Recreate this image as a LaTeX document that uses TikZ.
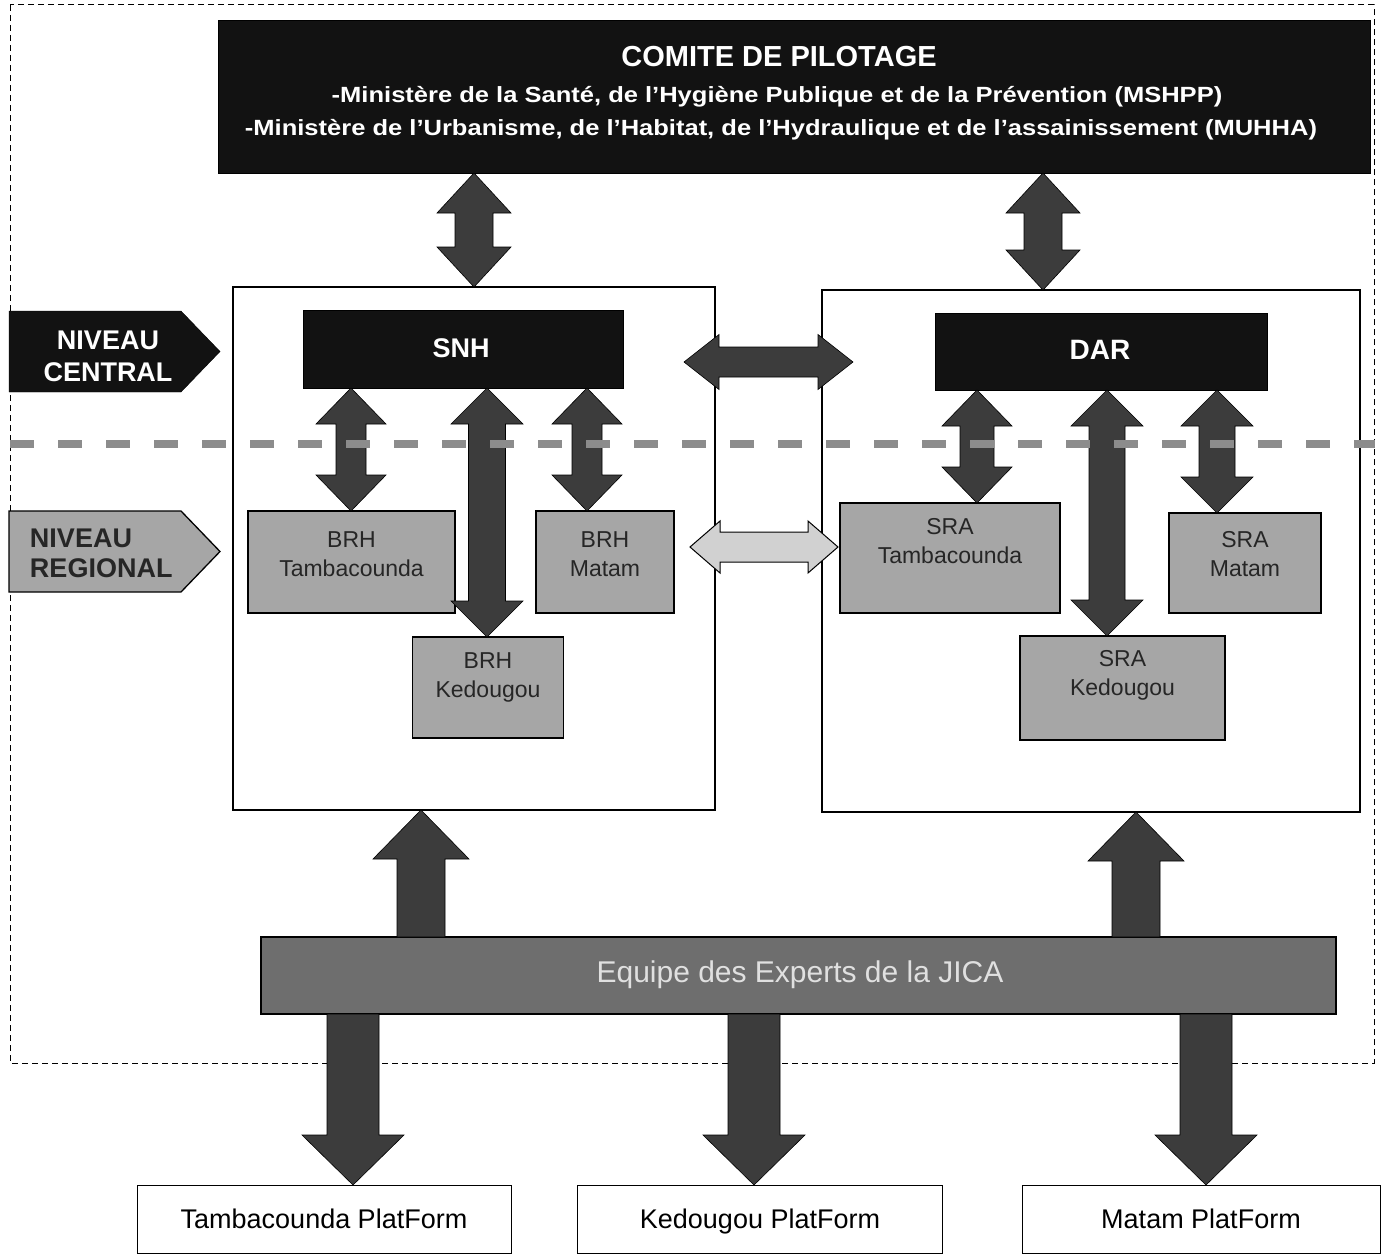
\documentclass[tikz,border=0pt]{standalone}
\usepackage{fontspec}
\setmainfont{Liberation Sans}
\usetikzlibrary{calc}
% vertical double block arrow: #1 top, #2 bottom, #3 half shaft, #4 half head, #5 head length, #6 style
\newcommand\vdbl[6]{\path[#6] let \p1=#1, \p2=#2 in
  (\x1,\y1) -- (\x1+#4pt,\y1-#5pt) -- (\x1+#3pt,\y1-#5pt) -- (\x1+#3pt,\y2+#5pt) -- (\x1+#4pt,\y2+#5pt)
  -- (\x1,\y2) -- (\x1-#4pt,\y2+#5pt) -- (\x1-#3pt,\y2+#5pt) -- (\x1-#3pt,\y1-#5pt) -- (\x1-#4pt,\y1-#5pt) -- cycle;}
% single up arrow: #1 tip (top), #2 base (bottom)
\newcommand\vup[6]{\path[#6] let \p1=#1, \p2=#2 in
  (\x1,\y1) -- (\x1+#4pt,\y1-#5pt) -- (\x1+#3pt,\y1-#5pt) -- (\x1+#3pt,\y2) -- (\x1-#3pt,\y2)
  -- (\x1-#3pt,\y1-#5pt) -- (\x1-#4pt,\y1-#5pt) -- cycle;}
% single down arrow: #1 base (top), #2 tip (bottom)
\newcommand\vdown[6]{\path[#6] let \p1=#1, \p2=#2 in
  (\x1-#3pt,\y1) -- (\x1+#3pt,\y1) -- (\x1+#3pt,\y2+#5pt) -- (\x1+#4pt,\y2+#5pt) -- (\x1,\y2)
  -- (\x1-#4pt,\y2+#5pt) -- (\x1-#3pt,\y2+#5pt) -- cycle;}
% horizontal double block arrow: #1 left, #2 right
\newcommand\hdbl[6]{\path[#6] let \p1=#1, \p2=#2 in
  (\x1,\y1) -- (\x1+#5pt,\y1+#4pt) -- (\x1+#5pt,\y1+#3pt) -- (\x2-#5pt,\y1+#3pt) -- (\x2-#5pt,\y1+#4pt)
  -- (\x2,\y1) -- (\x2-#5pt,\y1-#4pt) -- (\x2-#5pt,\y1-#3pt) -- (\x1+#5pt,\y1-#3pt) -- (\x1+#5pt,\y1-#4pt) -- cycle;}
\definecolor{arrowgray}{HTML}{3C3C3C}
\definecolor{boxgray}{HTML}{A6A6A6}
\definecolor{bargray}{HTML}{6E6E6E}
\definecolor{dashgray}{HTML}{8C8C8C}
\begin{document}
\begin{tikzpicture}[x=1pt,y=-1pt,
  every node/.style={outer sep=0pt,inner sep=0pt},
  blackbox/.style={fill=black!93,draw=black},
  container/.style={draw=black,line width=1.2pt,fill=white},
  graybox/.style={fill=boxgray,draw=black,line width=1.3pt},
  platbox/.style={draw=black,line width=1pt,fill=white},
  barbox/.style={fill=bargray,draw=black,line width=1.2pt},
  blockarrow/.style={fill=arrowgray,draw=black,line width=0.6pt},
  lightarrow/.style={fill=black!18,draw=black,line width=1pt},
  wbold/.style={text=white,font=\bfseries},
  subline/.style={text=white,xscale=1.16,font=\bfseries\fontsize{22}{26}\selectfont},
  plattext/.style={anchor=base,font=\fontsize{27}{30}\selectfont},
  graytext/.style={text=black!85,align=center,font=\fontsize{23}{29}\selectfont}]
\useasboundingbox (0,0) rectangle (1385,1255);

% outer dashed frame
\draw[line width=1pt,dash pattern=on 6pt off 4pt] (10,5) rectangle (1374,1063);

% banner
\node[blackbox,minimum width=1152,minimum height=153] (comite) at (794,96.5) {};
\node[wbold,font=\bfseries\fontsize{29}{34}\selectfont] (title) at (779,57) {COMITE DE PILOTAGE};
\node[subline] (l1) at (777,97) {-Ministère de la Santé, de l’Hygiène Publique et de la Prévention (MSHPP)};
\node[subline] (l2) at (781,130) {-Ministère de l’Urbanisme, de l’Habitat, de l’Hydraulique et de l’assainissement (MUHHA)};

% containers
\node[container,minimum width=482,minimum height=523] (cL) at (474,548.5) {};
\node[container,minimum width=538,minimum height=522] (cR) at (1091,551) {};

% level arrows (pentagons)
\path[blackbox] (9,311) -- (181,311) -- (220,351.5) -- (181,392) -- (9,392) -- cycle;
\node[wbold,align=center,font=\bfseries\fontsize{27}{32}\selectfont] (nc) at (108,356) {NIVEAU\\CENTRAL};
\path[fill=boxgray,draw=black,line width=1.3pt] (9,511) -- (181,511) -- (220,551.5) -- (181,592) -- (9,592) -- cycle;
\node[align=left,anchor=west,text=black!85,font=\bfseries\fontsize{27}{30}\selectfont] (nr) at (30,553) {NIVEAU\\REGIONAL};

% central boxes
\node[blackbox,minimum width=320,minimum height=78] (snh) at (463,349) {};
\node[wbold,font=\bfseries\fontsize{27}{32}\selectfont] (snht) at (461,348) {SNH};
\node[blackbox,minimum width=332,minimum height=77] (dar) at (1101,351.5) {};
\node[wbold,font=\bfseries\fontsize{28}{32}\selectfont] (dart) at (1100,350) {DAR};

% regional boxes
\node[graybox,minimum width=207,minimum height=102] (brhT) at (351.5,562) {};
\node[graytext] (brhTt) at (351.5,554) {BRH\\Tambacounda};
\node[graybox,minimum width=138,minimum height=102] (brhM) at (605,562) {};
\node[graytext] (brhMt) at (605,554) {BRH\\Matam};
\node[graybox,minimum width=151,minimum height=101] (brhK) at (488,687.5) {};
\node[graytext] (brhKt) at (488,677) {BRH\\Kedougou};
\node[graybox,minimum width=220,minimum height=110] (sraT) at (950,558) {};
\node[graytext] (sraTt) at (950,541) {SRA\\Tambacounda};
\node[graybox,minimum width=152,minimum height=100] (sraM) at (1245,563) {};
\node[graytext] (sraMt) at (1245,554) {SRA\\Matam};
\node[graybox,minimum width=205,minimum height=104] (sraK) at (1122.5,688) {};
\node[graytext] (sraKt) at (1122.5,675) {SRA\\Kedougou};

% JICA bar
\node[barbox,minimum width=1075,minimum height=77] (jica) at (798.5,975.5) {};
\node[text=black!12,font=\fontsize{30}{34}\selectfont] (jicat) at (800,975) {Equipe des Experts de la JICA};

% platforms
\node[platbox,minimum width=374,minimum height=68] (pT) at (324,1219) {};
\node[plattext] (pTt) at (324,1228) {Tambacounda PlatForm};
\node[platbox,minimum width=365,minimum height=68] (pK) at (759.5,1219) {};
\node[plattext] (pKt) at (760,1228) {Kedougou PlatForm};
\node[platbox,minimum width=358,minimum height=68] (pM) at (1201,1219) {};
\node[plattext] (pMt) at (1201,1228) {Matam PlatForm};

% x positions of arrows
\coordinate (xa) at (474,0);
\coordinate (xb) at (1043,0);
\coordinate (xs1) at (351,0);
\coordinate (xs2) at (487,0);
\coordinate (xs3) at (587,0);
\coordinate (xd1) at (977,0);
\coordinate (xd2) at (1107,0);
\coordinate (xd3) at (1217,0);
\coordinate (xu1) at (421,0);
\coordinate (xu2) at (1136,0);
\coordinate (xp1) at (353,0);
\coordinate (xp2) at (754,0);
\coordinate (xp3) at (1206,0);
\coordinate (hA) at (684,362);
\coordinate (hB) at (853,362);
\coordinate (gA) at (690,547);
\coordinate (gB) at (838,547);

% banner to containers
\vdbl{(comite.south -| xa)}{(cL.north -| xa)}{19}{37}{40}{blockarrow}
\vdbl{(comite.south -| xb)}{(cR.north -| xb)}{19}{37}{40}{blockarrow}

% SNH arrows
\vdbl{(snh.south -| xs1)}{(brhT.north -| xs1)}{15}{35}{36}{blockarrow}
\vdbl{(snh.south -| xs2)}{(brhK.north -| xs2)}{18.5}{36}{36}{blockarrow}
\vdbl{(snh.south -| xs3)}{(brhM.north -| xs3)}{15}{35}{36}{blockarrow}

% DAR arrows
\vdbl{(dar.south -| xd1)}{(sraT.north -| xd1)}{17}{35}{36}{blockarrow}
\vdbl{(dar.south -| xd2)}{(sraK.north -| xd2)}{18}{36}{36}{blockarrow}
\vdbl{(dar.south -| xd3)}{(sraM.north -| xd3)}{18}{36}{36}{blockarrow}

% horizontal arrows between containers
\hdbl{(hA)}{(hB)}{15}{27.5}{35}{blockarrow}
\hdbl{(gA)}{(gB)}{15}{26}{30}{lightarrow}

% dashed level separator
\draw[dashgray,line width=8pt,dash pattern=on 24pt off 24pt] (10,444) -- (1375,444);

% JICA up arrows
\vup{(cL.south -| xu1)}{(jica.north -| xu1)}{24}{48}{49}{blockarrow}
\vup{(cR.south -| xu2)}{(jica.north -| xu2)}{24}{48}{49}{blockarrow}

% JICA down arrows
\vdown{(jica.south -| xp1)}{(pT.north -| xp1)}{26}{51}{50}{blockarrow}
\vdown{(jica.south -| xp2)}{(pK.north -| xp2)}{26}{51}{50}{blockarrow}
\vdown{(jica.south -| xp3)}{(pM.north -| xp3)}{26}{51}{50}{blockarrow}
\end{tikzpicture}
\end{document}
